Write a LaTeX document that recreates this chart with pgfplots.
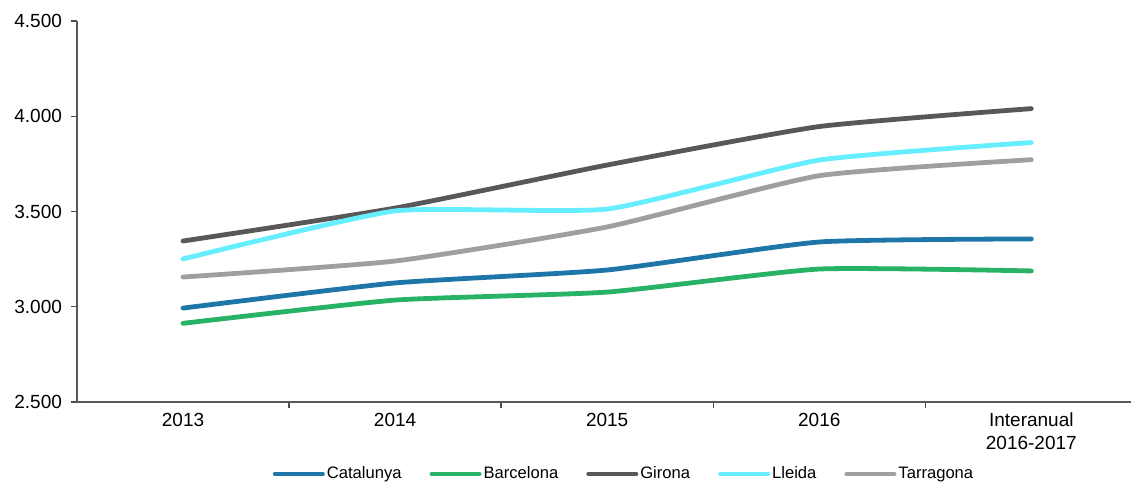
\documentclass[border=0pt]{standalone}
\usepackage{pgfplots}
\pgfplotsset{compat=1.18}
\usepackage{fontspec}
\setmainfont{Liberation Sans}
\definecolor{cCat}{RGB}{30,118,168}
\definecolor{cBar}{RGB}{40,178,102}
\definecolor{cGir}{RGB}{88,88,88}
\definecolor{cLle}{RGB}{102,238,255}
\definecolor{cTar}{RGB}{158,160,160}
\begin{document}
\begin{tikzpicture}
\path[use as bounding box] (0,0) rectangle (566pt,241.5pt);
\begin{axis}[
  at={(38.5pt,40.5pt)}, anchor=south west,
  scale only axis, width=527pt, height=190.5pt,
  xmin=-0.5, xmax=4.47, ymin=2500, ymax=4500,
  axis x line*=bottom, axis y line*=left,
  axis line style={draw=black!65, line width=0.7pt},
  tick align=outside,
  xtick={0,1,2,3,4},
  xticklabels={2013,2014,2015,2016,{Interanual\\2016-2017}},
  major x tick style={draw=none},
  minor xtick={0.5,1.5,2.5,3.5},
  minor tick length=3pt,
  minor x tick style={draw=black!70, line width=0.7pt},
  xticklabel style={align=center, font=\fontsize{9.5}{11.5}\selectfont, yshift=1pt},
  ytick={2500,3000,3500,4000,4500},
  major tick length=3pt,
  y tick style={draw=black!70, line width=0.7pt},
  yticklabel style={font=\fontsize{9.5}{11.5}\selectfont, xshift=-1pt},
  /pgf/number format/.cd, 1000 sep={.}, assume math mode=true,
  /pgfplots/.cd,
  every axis plot/.append style={line width=2.4pt, line cap=round, smooth, tension=0.3},
  legend columns=5,
  legend style={at={(0.519,-0.189)}, anchor=center, draw=none, fill=none,
    font=\fontsize{8.3}{9.5}\selectfont,
    /tikz/every even column/.append style={column sep=13pt},
    nodes={inner xsep=1pt}},
  legend image code/.code={\draw[#1, line width=2pt, line cap=round] (0pt,0pt) -- (24pt,0pt);},
]
\addplot[cCat] coordinates {(0,2993) (1,3125) (2,3193) (3,3340) (4,3356)};
\addlegendentry{Catalunya}
\addplot[cBar] coordinates {(0,2913) (1,3035) (2,3077) (3,3198) (4,3188)};
\addlegendentry{Barcelona}
\addplot[cGir] coordinates {(0,3345) (1,3518) (2,3744) (3,3946) (4,4040)};
\addlegendentry{Girona}
\addplot[cLle] coordinates {(0,3251) (1,3503) (2,3513) (3,3770) (4,3862)};
\addlegendentry{Lleida}
\addplot[cTar] coordinates {(0,3156) (1,3240) (2,3419) (3,3688) (4,3772)};
\addlegendentry{Tarragona}
\end{axis}
\end{tikzpicture}
\end{document}
